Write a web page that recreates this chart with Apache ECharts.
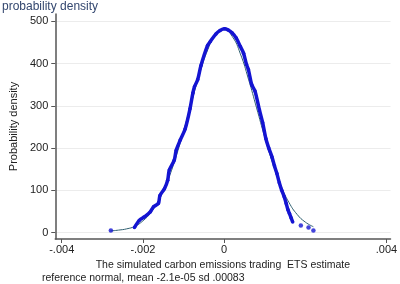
<!DOCTYPE html>
<html>
<head>
<meta charset="utf-8">
<script src="https://cdn.jsdelivr.net/npm/echarts@6/dist/echarts.min.js"></script>
<style>
  html, body { margin: 0; padding: 0; background: #fff; }
  #chart { width: 400px; height: 284px; }
</style>
</head>
<body>
<div id="chart"></div>
<script>
// kernel density estimate, dense part (x, density)
var kdeX = [-0.00221, -0.00209, -0.00197, -0.00182, -0.00174, -0.00162, -0.00158, -0.00147, -0.00139, -0.00135,
  -0.00123, -0.00118, -0.00108, -0.00096, -0.00084, -0.00077, -0.00073, -0.00065, -0.00057, -0.00041,
  -0.00034, -0.00020, -0.00010, 0.00001, 0.00010, 0.00020, 0.00030, 0.00040, 0.00048, 0.00055,
  0.00060, 0.00068, 0.00076, 0.00087, 0.00095, 0.00103, 0.00110, 0.00118, 0.00124, 0.00130,
  0.00136, 0.00142, 0.00148, 0.00153, 0.00157, 0.00161, 0.00165, 0.00169];
var kdeY = [12, 29, 37, 49, 61, 69, 88, 104, 124, 148,
  171, 195, 219, 245, 293, 330, 345, 362, 395, 442,
  452, 470, 478, 482, 479, 472, 460, 440, 424, 398,
  385, 350, 335, 290, 260, 222, 200, 179, 158, 140,
  118, 100, 85, 69, 55, 45, 35, 25];
// isolated tail points
var tailX = [-0.00279, 0.00189, 0.00208, 0.00220];
var tailY = [5, 17, 12, 5];
// reference normal curve
var normX = [-0.0028, -0.0026, -0.0024, -0.0022, -0.0020, -0.0018, -0.0016, -0.0014, -0.0012, -0.0010,
  -0.0008, -0.0006, -0.0004, -0.0002, 0, 0.0002, 0.0004, 0.0006, 0.0008, 0.0010,
  0.0012, 0.0014, 0.0016, 0.0018, 0.0020, 0.0022];
var normY = [4, 6, 9, 15, 28, 48, 79, 121, 175, 240,
  309, 377, 433, 470, 480, 464, 423, 363, 295, 226,
  163, 111, 71, 43, 25, 14];
var xTicks = [-0.004, -0.002, 0, 0.004];
var yTicks = [0, 100, 200, 300, 400, 500];

function pairs(xs, ys) {
  var out = [];
  for (var i = 0; i < xs.length; i++) out.push([xs[i], ys[i]]);
  return out;
}

var myChart = echarts.init(document.getElementById('chart'));
var font = 'Liberation Sans, Arial, sans-serif';
option = {
  animation: false,
  grid: { left: 41, right: 7, top: 14, bottom: 45 },
  title: {
    text: 'probability density',
    left: 2, top: 1, padding: 0,
    textStyle: { fontSize: 12, fontWeight: 'normal', color: '#33476f', fontFamily: font }
  },
  graphic: [{
    type: 'text', left: 42, top: 273,
    style: { text: 'reference normal, mean -2.1e-05 sd .00083', fontSize: 10.5, fill: '#222', fontFamily: font }
  }],
  xAxis: {
    type: 'value',
    min: -0.00416, max: 0.0041,
    name: 'The simulated carbon emissions trading  ETS estimate',
    nameLocation: 'middle', nameGap: 18,
    nameTextStyle: { fontSize: 10.5, color: '#222', fontFamily: font },
    axisLine: { onZero: false, lineStyle: { color: '#555', width: 1.5 } },
    axisTick: { show: true, length: 4, customValues: xTicks, lineStyle: { color: '#555' } },
    axisLabel: {
      customValues: xTicks, margin: 5, fontSize: 11, color: '#222', fontFamily: font,
      formatter: function (v) { return v === 0 ? '0' : String(v).replace('0.', '.'); }
    },
    splitLine: { show: false }
  },
  yAxis: {
    type: 'value',
    min: -15, max: 517,
    name: 'Probability density',
    nameLocation: 'middle', nameGap: 33,
    nameTextStyle: { fontSize: 11, color: '#222', fontFamily: font },
    axisLine: { show: true, onZero: false, lineStyle: { color: '#555', width: 1.5 } },
    axisTick: { show: true, length: 4, customValues: yTicks, lineStyle: { color: '#555' } },
    axisLabel: { customValues: yTicks, margin: 7, fontSize: 11, color: '#222', fontFamily: font },
    splitLine: { show: true, lineStyle: { color: '#ececec', width: 1 } }
  },
  series: [{
    name: 'reference normal',
    type: 'line',
    data: pairs(normX, normY),
    smooth: true,
    showSymbol: false,
    lineStyle: { color: '#2f5f70', width: 1 },
    z: 2
  }, {
    name: 'kdensity',
    type: 'line',
    data: pairs(kdeX, kdeY),
    smooth: 0.3,
    symbol: 'circle', symbolSize: 3.5,
    itemStyle: { color: '#1414d2' },
    lineStyle: { color: '#1414d2', width: 3.5 },
    z: 3
  }, {
    name: 'tail',
    type: 'scatter',
    data: pairs(tailX, tailY),
    symbolSize: 4.5,
    itemStyle: { color: '#1414d2' },
    z: 3
  }]
};
myChart.setOption(option);
</script>
</body>
</html>
